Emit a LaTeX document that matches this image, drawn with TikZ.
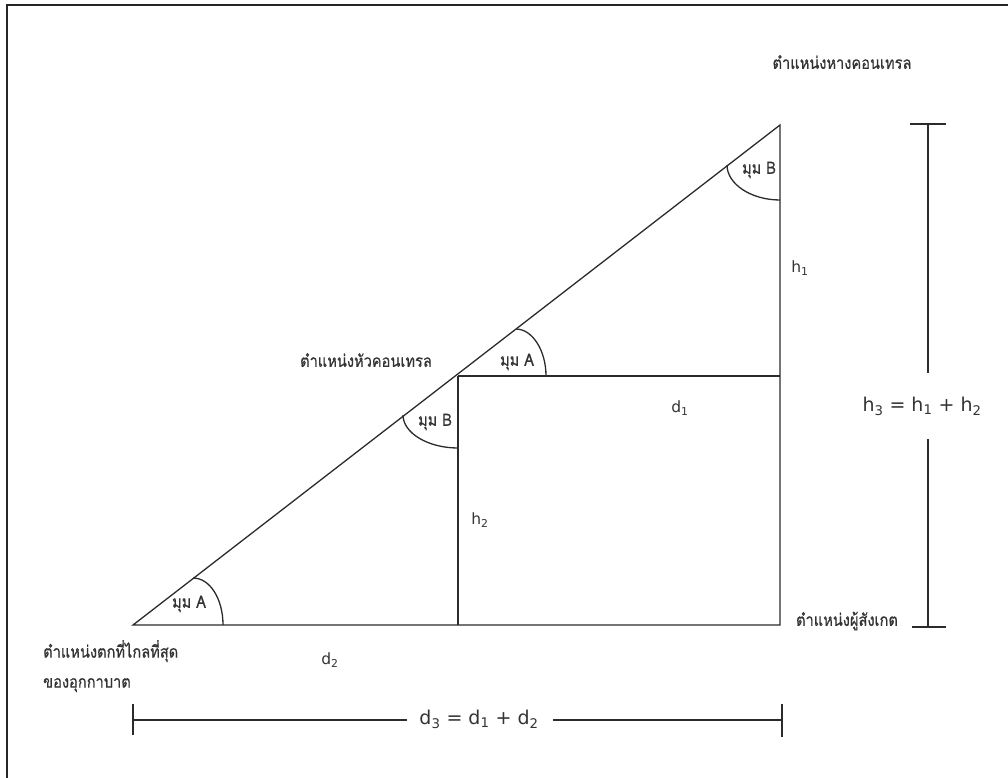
\documentclass[tikz,border=0pt]{standalone}
\usepackage{fontspec}
\setmainfont{DejaVu Sans}
\newfontfamily\thaifont[Script=Thai,FakeStretch=0.86,FakeBold=0.6]{Loma}
\definecolor{ink}{HTML}{2B2B2B}
\definecolor{txt}{HTML}{333333}
\begin{document}
\begin{tikzpicture}[x=1pt,y=-1pt,
  geo/.style={draw=ink,line width=1.3pt},
  thai/.style={font=\thaifont\fontsize{17}{30}\selectfont,text=txt,inner sep=0pt},
  lbl/.style={font=\fontsize{15.5}{18}\selectfont,text=txt,inner sep=0pt},
  biglbl/.style={font=\fontsize{19}{22}\selectfont,text=txt,inner sep=0pt}]
\useasboundingbox (0,0) rectangle (1008,778);
% frame (top and left edges visible)
\coordinate (fbl) at (7,778);
\coordinate (ftl) at (7,5);
\coordinate (ftr) at (1008,5);
\draw[draw=black!85,line width=2pt] (fbl) -- (ftl) -- (ftr);
% vertices
\coordinate (A) at (133,625);
\coordinate (T) at (780,125);
\coordinate (M) at (458,376);
\coordinate (R) at (780,625);
\coordinate (D) at (458,625);
\coordinate (E) at (780,376);
\draw[geo] (A) -- (T) -- (R) -- cycle;
\draw[geo] (M) -- (D);
\draw[geo] (M) -- (E);
% angle arcs
\coordinate (a1s) at (193,578); \coordinate (a1e) at (223,625);
\draw[geo] (a1s) .. controls (210,578) and (223,599) .. (a1e);
\coordinate (a2s) at (516,329); \coordinate (a2e) at (546,376);
\draw[geo] (a2s) .. controls (532,329) and (546,350) .. (a2e);
\coordinate (b1s) at (727,165); \coordinate (b1e) at (780,200);
\draw[geo] (b1s) .. controls (727,184) and (751,200) .. (b1e);
\coordinate (b2s) at (403,415); \coordinate (b2e) at (458,448);
\draw[geo] (b2s) .. controls (403,433) and (428,448) .. (b2e);
% angle labels
\node[thai] (la1) at (189,604) {มุม A};
\node[thai] (la2) at (517,362) {มุม A};
\node[thai] (lb1) at (759,170) {มุม B};
\node[thai] (lb2) at (435,422) {มุม B};
% side labels
\node[lbl] (h1) at (800,268) {h\textsubscript{1}};
\node[lbl] (h2) at (480,520) {h\textsubscript{2}};
\node[lbl] (d1) at (680,408) {d\textsubscript{1}};
\node[lbl] (d2) at (330,660) {d\textsubscript{2}};
% position labels
\node[thai] (tail) at (842,62) {ตำแหน่งหางคอนเทรล};
\node[thai] (head) at (366,360) {ตำแหน่งหัวคอนเทรล};
\node[thai] (obs) at (847,621) {ตำแหน่งผู้สังเกต};
\node[thai,align=left,anchor=north west] (fall) at (43,640) {ตำแหน่งตกที่ไกลที่สุด\\ของอุกกาบาต};
% right dimension
\coordinate (rt) at (928,124);
\coordinate (rb) at (928,627);
\coordinate (rtl) at (910,124); \coordinate (rtr) at (946,124);
\coordinate (rbl) at (912,627); \coordinate (rbr) at (946,627);
\coordinate (rga) at (928,373); \coordinate (rgb) at (928,439);
\draw[geo] (rtl) -- (rtr);
\draw[geo] (rbl) -- (rbr);
\draw[geo] (rt) -- (rga);
\draw[geo] (rgb) -- (rb);
\node[biglbl] (h3) at (922,406) {h\textsubscript{3} = h\textsubscript{1} + h\textsubscript{2}};
% bottom dimension
\coordinate (bl) at (133,720);
\coordinate (br) at (782,720);
\coordinate (blt) at (133,704); \coordinate (blb) at (133,735);
\coordinate (brt) at (782,704); \coordinate (brb) at (782,737);
\coordinate (bga) at (407,720); \coordinate (bgb) at (553,720);
\draw[geo] (blt) -- (blb);
\draw[geo] (brt) -- (brb);
\draw[geo] (bl) -- (bga);
\draw[geo] (bgb) -- (br);
\node[biglbl] (d3) at (479,719) {d\textsubscript{3} = d\textsubscript{1} + d\textsubscript{2}};
\end{tikzpicture}
\end{document}
